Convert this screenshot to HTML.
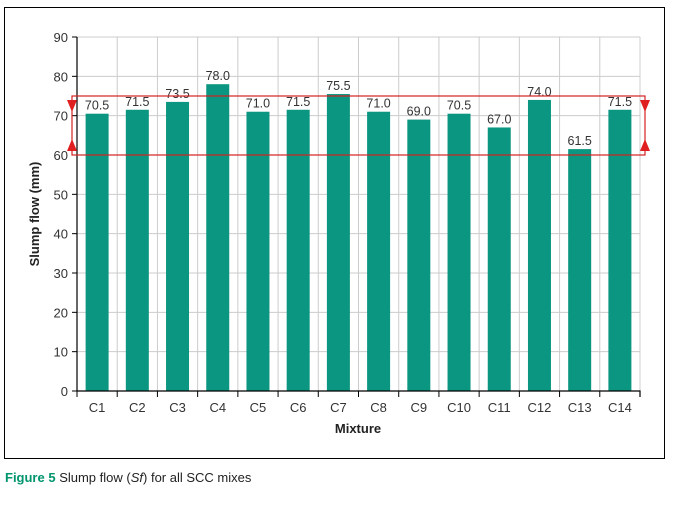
<!DOCTYPE html>
<html><head><meta charset="utf-8"><style>
body{margin:0;background:#fff;width:676px;height:503px;overflow:hidden;font-family:"Liberation Sans",sans-serif}
</style></head><body>
<svg id="chart" width="676" height="503" xmlns="http://www.w3.org/2000/svg" font-family="Liberation Sans, sans-serif">
<rect x="4.5" y="7.5" width="660" height="451" fill="none" stroke="#000" stroke-width="1"/>
<g id="grid"></g><g id="bars"></g><g id="axes"></g>
<text transform="translate(39,214) rotate(-90)" text-anchor="middle" font-size="13" font-weight="bold" fill="#222">Slump flow (mm)</text>
<text x="358" y="433" text-anchor="middle" font-size="13" font-weight="bold" fill="#222">Mixture</text>
<text x="5" y="482" font-size="13" fill="#222"><tspan font-weight="bold" fill="#00956e">Figure 5</tspan> Slump flow (<tspan font-style="italic">Sf</tspan>) for all SCC mixes</text>
</svg>
<script>
const categories=["C1","C2","C3","C4","C5","C6","C7","C8","C9","C10","C11","C12","C13","C14"];
const values=[70.5,71.5,73.5,78.0,71.0,71.5,75.5,71.0,69.0,70.5,67.0,74.0,61.5,71.5];
const yTicks=[0,10,20,30,40,50,60,70,80,90];
const limits=[60,75];
const NS="http://www.w3.org/2000/svg";
const L=77,R=640,T=37,B=391,ymax=90;
const y=v=>B-(B-T)*v/ymax;
const bw=(R-L)/categories.length;
const x=i=>L+bw*i;
function mk(p,tag,a,txt){const e=document.createElementNS(NS,tag);for(const k in a)e.setAttribute(k,a[k]);if(txt!=null)e.textContent=txt;document.getElementById(p).appendChild(e);return e;}
yTicks.forEach(t=>{
 const g=mk('grid','line',{x1:L,x2:R,y1:y(t),y2:y(t),stroke:'#cccccc','stroke-width':1});
 
 
 const tk=mk('axes','line',{x1:L-5,x2:L,y1:y(t),y2:y(t),stroke:'#000'});
 
 
 const lb=mk('axes','text',{x:L-9,y:y(t)+5,'text-anchor':'end','font-size':13,fill:'#333'},t);
 
 
});
categories.forEach((c,i)=>{
 const g=mk('grid','line',{x1:x(i+1),x2:x(i+1),y1:T,y2:B,stroke:'#cccccc'});
 
 
 const b=mk('bars','rect',{x:x(i)+bw/2-11.5,y:y(values[i]),width:23,height:B-y(values[i]),fill:'#0a9680'});
 
 
 const v=mk('bars','text',{x:x(i)+bw/2,y:y(values[i])-4,'text-anchor':'middle','font-size':12.5,fill:'#333'},values[i].toFixed(1));
 
 
 const lb=mk('axes','text',{x:x(i)+bw/2,y:B+21,'text-anchor':'middle','font-size':13,fill:'#333'},c);
 
 
});
for(let i=0;i<=categories.length;i++){
 const tk=mk('axes','line',{x1:x(i),x2:x(i),y1:B,y2:B+6,stroke:'#000'});
 
 
}
const ax=mk('axes','path',{d:`M${L},${T}V${B}H${R}V${B+6}`,fill:'none',stroke:'#000','stroke-width':1.2});


const lo=y(limits[0]),hi=y(limits[1]);
const box=mk('axes','rect',{x:72,y:hi,width:573,height:lo-hi,fill:'none',stroke:'#d42020','stroke-width':1.2});


[72,645].forEach(ex=>{
 const d=mk('axes','path',{d:`M${ex-5},${hi+4}L${ex+5},${hi+4}L${ex},${hi+16}Z`,fill:'#e02020'});
 
 
 const u=mk('axes','path',{d:`M${ex-5},${lo-4}L${ex+5},${lo-4}L${ex},${lo-16}Z`,fill:'#e02020'});
 
 
});
</script>
</body></html>
